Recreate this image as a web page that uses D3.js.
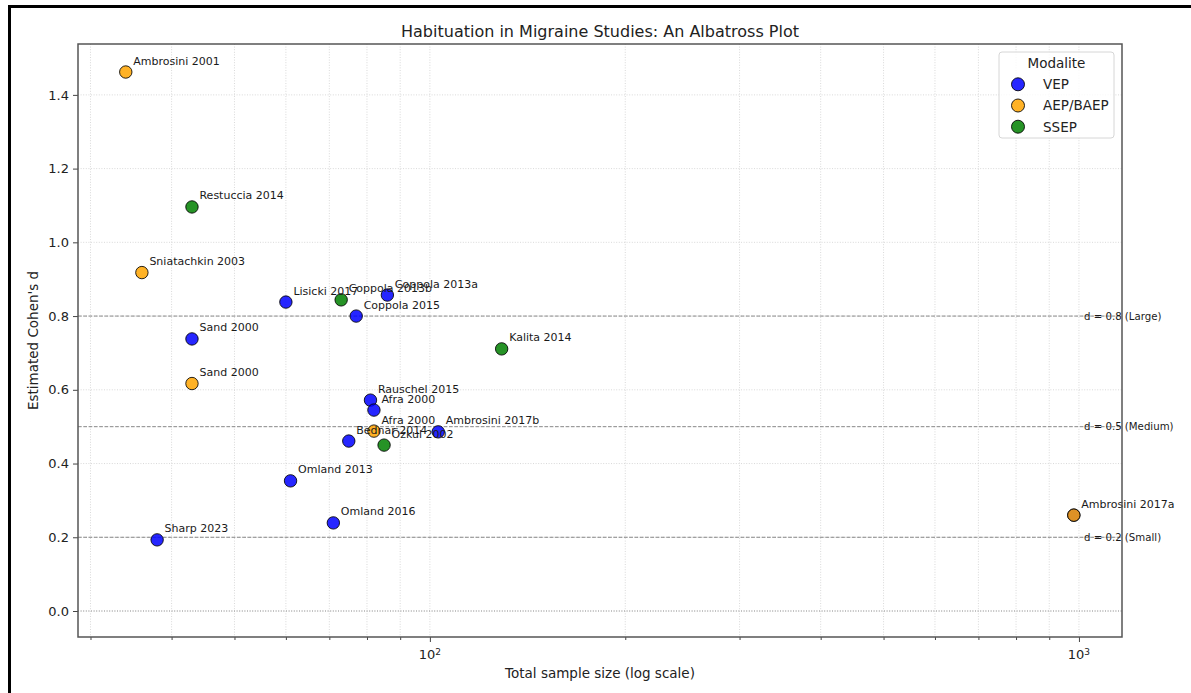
<!DOCTYPE html>
<html>
<head>
<meta charset="utf-8">
<script src="https://cdn.jsdelivr.net/npm/d3@7"></script>
<style>
  body { margin: 0; background: #fff; }
  svg { display: block; font-family: "DejaVu Sans", sans-serif; }
</style>
</head>
<body>
<svg id="chart" width="1191" height="693"></svg>
<script>
// studies
var studies = ["Lisicki 2017", "Coppola 2013a", "Coppola 2015", "Sand 2000", "Rauschel 2015", "Afra 2000",
               "Ambrosini 2017b", "Bednar 2014", "Omland 2013", "Omland 2016", "Sharp 2023", "Ambrosini 2017a",
               "Ambrosini 2001", "Sniatachkin 2003", "Sand 2000", "Afra 2000", "Ambrosini 2017a",
               "Restuccia 2014", "Coppola 2013b", "Kalita 2014", "Özkul 2002"];
var sampleSize = [60, 86, 77, 43, 81, 82,
                  103, 75, 61, 71, 38, 982,
                  34, 36, 43, 82, 982,
                  43, 73, 129, 85];
var cohenD = [0.838, 0.857, 0.800, 0.738, 0.572, 0.545,
              0.486, 0.461, 0.353, 0.239, 0.193, 0.260,
              1.462, 0.918, 0.617, 0.488, 0.260,
              1.096, 0.844, 0.711, 0.450];
var modality = ["VEP", "VEP", "VEP", "VEP", "VEP", "VEP",
                "VEP", "VEP", "VEP", "VEP", "VEP", "VEP",
                "AEP/BAEP", "AEP/BAEP", "AEP/BAEP", "AEP/BAEP", "AEP/BAEP",
                "SSEP", "SSEP", "SSEP", "SSEP"];

var modalities = ["VEP", "AEP/BAEP", "SSEP"];
var modalityColors = ["blue", "orange", "green"];

var refValues = [0.8, 0.5, 0.2];
var refLabels = ["d = 0.8 (Large)", "d = 0.5 (Medium)", "d = 0.2 (Small)"];

var yTicks = [0.0, 0.2, 0.4, 0.6, 0.8, 1.0, 1.2, 1.4];
var xMajorTicks = [100, 1000];
var xMinorTicks = [30, 40, 50, 60, 70, 80, 90, 200, 300, 400, 500, 600, 700, 800, 900];

var svg = d3.select("#chart"),
    margin = { top: 44, right: 69, bottom: 56, left: 78 },
    width = +svg.attr("width") - margin.left - margin.right,
    height = +svg.attr("height") - margin.top - margin.bottom;

var x = d3.scaleLog().domain([28.7, 1165]).range([0, width]);
var y = d3.scaleLinear().domain([-0.0705, 1.538]).range([height, 0]);
var color = d3.scaleOrdinal().domain(modalities).range(modalityColors);

var data = studies.map(function (s, i) {
    return { name: s, n: sampleSize[i], d: cohenD[i], mod: modality[i] };
});

// labels: one per spot (the two Ambrosini 2017a points sit on top of each other)
var seen = {};
var labelData = data.filter(function (d) {
    var k = d.name + "|" + d.n + "|" + d.d;
    if (seen[k]) return false;
    seen[k] = true;
    return true;
});

// figure frame (only left and top edges are visible in the picture)
svg.append("rect")
    .attr("x", 9.5).attr("y", 6.5)
    .attr("width", 1300).attr("height", 800)
    .attr("fill", "none").attr("stroke", "#000").attr("stroke-width", 3);

var g = svg.append("g")
    .attr("transform", "translate(" + margin.left + "," + margin.top + ")");

g.append("defs").append("clipPath").attr("id", "clip")
    .append("rect").attr("width", width).attr("height", height);

// grid
var grid = g.append("g").attr("clip-path", "url(#clip)");
grid.selectAll(".gx")
    .data(xMajorTicks.concat(xMinorTicks))
    .enter().append("line")
    .attr("x1", function (d) { return x(d); })
    .attr("x2", function (d) { return x(d); })
    .attr("y1", 0).attr("y2", height)
    .attr("stroke", "#cfcfcf").attr("stroke-width", 0.8)
    .attr("stroke-dasharray", "1,1.6");
grid.selectAll(".gy")
    .data(yTicks)
    .enter().append("line")
    .attr("x1", 0).attr("x2", width)
    .attr("y1", function (d) { return y(d); })
    .attr("y2", function (d) { return y(d); })
    .attr("stroke", "#cfcfcf").attr("stroke-width", 0.8)
    .attr("stroke-dasharray", "1,1.6");

// zero line
g.append("line")
    .attr("x1", 0).attr("x2", width)
    .attr("y1", y(0)).attr("y2", y(0))
    .attr("stroke", "#999").attr("stroke-width", 1)
    .attr("stroke-dasharray", "1,1.6");

// reference lines for effect sizes
g.selectAll(".ref")
    .data(refValues)
    .enter().append("line")
    .attr("class", "ref")
    .attr("x1", 0).attr("x2", width)
    .attr("y1", function (d) { return y(d); })
    .attr("y2", function (d) { return y(d); })
    .attr("stroke", "#888").attr("stroke-width", 1)
    .attr("stroke-dasharray", "3.7,1.6");

// points, one modality after the other
modalities.forEach(function (m) {
    g.selectAll(".pt-" + m.replace("/", ""))
        .data(data.filter(function (d) { return d.mod === m; }))
        .enter().append("circle")
        .attr("cx", function (d) { return x(d.n); })
        .attr("cy", function (d) { return y(d.d); })
        .attr("r", 6.2)
        .attr("fill", color(m))
        .attr("fill-opacity", 0.85)
        .attr("stroke", "#000")
        .attr("stroke-opacity", 0.85)
        .attr("stroke-width", 1);
});

// study labels
g.selectAll(".lbl")
    .data(labelData)
    .enter().append("text")
    .attr("x", function (d) { return x(d.n) + 7.5; })
    .attr("y", function (d) { return y(d.d) - 7.5; })
    .attr("font-size", "11px")
    .attr("fill", "#1a1a1a")
    .text(function (d) { return d.name; });

// reference labels
g.selectAll(".refl")
    .data(refValues)
    .enter().append("text")
    .attr("x", x(1000) + 5)
    .attr("y", function (d) { return y(d); })
    .attr("dy", "0.35em")
    .attr("font-size", "10.2px")
    .attr("fill", "#1a1a1a")
    .text(function (d, i) { return refLabels[i]; });

// axes
var yAxis = g.append("g")
    .call(d3.axisLeft(y).tickValues(yTicks).tickFormat(d3.format(".1f")).tickSize(5).tickPadding(4));
yAxis.selectAll("text").attr("font-size", "13px").attr("fill", "#222").attr("font-family", "DejaVu Sans");
yAxis.selectAll("line").attr("stroke", "#444");
yAxis.select(".domain").remove();

var xAxis = g.append("g")
    .attr("transform", "translate(0," + height + ")")
    .call(d3.axisBottom(x).tickValues(xMajorTicks).tickFormat("").tickSize(5));
xAxis.selectAll("line").attr("stroke", "#444");
xAxis.select(".domain").remove();

var xMinor = g.append("g")
    .attr("transform", "translate(0," + height + ")")
    .call(d3.axisBottom(x).tickValues(xMinorTicks).tickFormat("").tickSize(3));
xMinor.selectAll("line").attr("stroke", "#444");
xMinor.select(".domain").remove();

// 10^n labels with superscripts
var pow = g.selectAll(".pow")
    .data(xMajorTicks)
    .enter().append("text")
    .attr("x", function (d) { return x(d); })
    .attr("y", height + 22)
    .attr("text-anchor", "middle")
    .attr("font-size", "13px")
    .attr("fill", "#222");
pow.append("tspan").text("10");
pow.append("tspan")
    .attr("dy", "-0.45em")
    .attr("font-size", "9px")
    .text(function (d) { return Math.round(Math.log10(d)); });

// axes box
g.append("rect")
    .attr("width", width).attr("height", height)
    .attr("fill", "none").attr("stroke", "#555").attr("stroke-width", 1.5);

// title and axis labels
svg.append("text")
    .attr("x", margin.left + width / 2).attr("y", 37)
    .attr("text-anchor", "middle")
    .attr("font-size", "16px").attr("fill", "#222")
    .text("Habituation in Migraine Studies: An Albatross Plot");

svg.append("text")
    .attr("x", margin.left + width / 2).attr("y", 678)
    .attr("text-anchor", "middle")
    .attr("font-size", "13.5px").attr("fill", "#222")
    .text("Total sample size (log scale)");

svg.append("text")
    .attr("transform", "translate(38," + (margin.top + height / 2) + ") rotate(-90)")
    .attr("text-anchor", "middle")
    .attr("font-size", "13.5px").attr("fill", "#222")
    .text("Estimated Cohen's d");

// legend
var legend = svg.append("g").attr("transform", "translate(999,52)");
legend.append("rect")
    .attr("width", 115).attr("height", 86)
    .attr("rx", 3)
    .attr("fill", "#fff").attr("fill-opacity", 0.8)
    .attr("stroke", "#d6d6d6");
legend.append("text")
    .attr("x", 57.5).attr("y", 16)
    .attr("text-anchor", "middle")
    .attr("font-size", "13.5px").attr("fill", "#222")
    .text("Modalite");
var items = legend.selectAll(".item")
    .data(modalities)
    .enter().append("g")
    .attr("transform", function (d, i) { return "translate(19," + (32.3 + i * 21.2) + ")"; });
items.append("circle")
    .attr("r", 6.5)
    .attr("fill", function (d) { return color(d); })
    .attr("fill-opacity", 0.85)
    .attr("stroke", "#000").attr("stroke-opacity", 0.85);
items.append("text")
    .attr("x", 25).attr("dy", "0.36em")
    .attr("font-size", "13.5px").attr("fill", "#222")
    .text(function (d) { return d; });
</script>
</body>
</html>
